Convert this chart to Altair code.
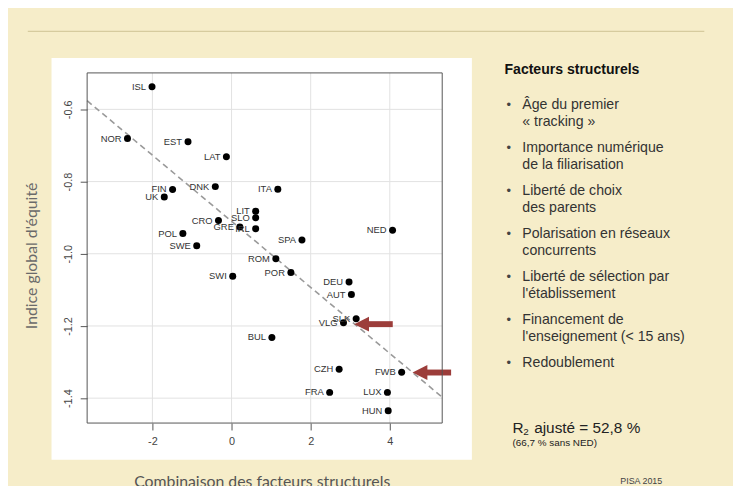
import altair as alt
import pandas as pd

# ---- data ----
countries = ["ISL", "NOR", "EST", "LAT", "DNK", "FIN", "UK", "ITA", "LIT", "SLO",
             "CRO", "GRE", "IRL", "POL", "SWE", "SPA", "ROM", "POR", "SWI", "NED",
             "DEU", "AUT", "SLK", "VLG", "BUL", "CZH", "FWB", "FRA", "LUX", "HUN"]
x_vals = [-2.01, -2.63, -1.10, -0.13, -0.41, -1.49, -1.70, 1.17, 0.61, 0.61,
          -0.33, 0.21, 0.61, -1.23, -0.88, 1.78, 1.12, 1.50, 0.03, 4.07,
          2.97, 3.03, 3.15, 2.83, 1.02, 2.72, 4.30, 2.48, 3.94, 3.96]
y_vals = [-0.537, -0.681, -0.690, -0.731, -0.814, -0.822, -0.843, -0.821, -0.882, -0.900,
          -0.908, -0.926, -0.931, -0.944, -0.978, -0.962, -1.014, -1.052, -1.062, -0.935,
          -1.078, -1.113, -1.180, -1.191, -1.232, -1.320, -1.328, -1.384, -1.384, -1.435]

fit_x = [-3.65, 5.30]
fit_y = [-0.576, -1.395]

x_ticks = [-2, 0, 2, 4]
y_ticks = [-0.6, -0.8, -1.0, -1.2, -1.4]

arrow_tip_x = [3.10, 4.575]
arrow_tip_y = [-1.195, -1.329]
arrow_tail_x = [4.075, 5.55]

title_right = "Facteurs structurels"
bullets = [
    ["Âge du premier", "« tracking »"],
    ["Importance numérique", "de la filiarisation"],
    ["Liberté de choix", "des parents"],
    ["Polarisation en réseaux", "concurrents"],
    ["Liberté de sélection par", "l'établissement"],
    ["Financement de", "l'enseignement (< 15 ans)"],
    ["Redoublement"],
]
r2_main = "ajusté = 52,8 %"
r2_note = "(66,7 % sans NED)"
source_note = "PISA 2015"
y_title = "Indice global d'équité"
x_title = "Combinaison des facteurs structurels"

# ---- layout ----
W, H = 359, 354
X_DOM = [-3.65, 5.325]
Y_DOM = [-1.469, -0.499]
BG = "#F6EDC9"
FONT = "Liberation Sans"
TITLE_FONT = "Lato"
ARROW = "#9C3D3A"

pts = pd.DataFrame({"country": countries, "x": x_vals, "y": y_vals})
fit = pd.DataFrame({"x": fit_x, "y": fit_y})
arr = pd.DataFrame({"tip": arrow_tip_x, "y": arrow_tip_y, "tail": arrow_tail_x})
arr["start"] = arr["tip"] + 0.3
one = pd.DataFrame({"a": [0]})

xs = alt.Scale(domain=X_DOM, zero=False, nice=False)
ys = alt.Scale(domain=Y_DOM, zero=False, nice=False)

x_axis = alt.Axis(values=x_ticks, title=None, grid=False, domain=False,
                  labelExpr="replace(format(datum.value, 'd'), '\u2212', '-')",
                  tickSize=7, labelPadding=6, zindex=1)
y_axis = alt.Axis(values=y_ticks, title=None, grid=False, domain=False,
                  labelExpr="replace(format(datum.value, '.1f'), '\u2212', '-')",
                  tickSize=7, labelPadding=7, labelAngle=270, labelAlign="center",
                  labelBaseline="bottom", zindex=1)

panel = alt.Chart(one).mark_rect(color="white").encode(
    x=alt.value(-36), x2=alt.value(389), y=alt.value(-15), y2=alt.value(391))

header = alt.Chart(one).mark_rule(color="#D6CB9E", strokeWidth=1.3).encode(
    x=alt.value(-60), x2=alt.value(624), y=alt.value(-42))

gx = alt.Chart(pd.DataFrame({"v": x_ticks})).mark_rule(color="#E2E2E2", strokeWidth=1).encode(
    x=alt.X("v:Q", scale=xs, axis=x_axis))
gy = alt.Chart(pd.DataFrame({"v": y_ticks})).mark_rule(color="#E2E2E2", strokeWidth=1).encode(
    y=alt.Y("v:Q", scale=ys, axis=y_axis))

line = alt.Chart(fit).mark_line(color="#9A9A9A", strokeDash=[6, 4], strokeWidth=1.6).encode(
    x=alt.X("x:Q", scale=xs), y=alt.Y("y:Q", scale=ys))

dots = alt.Chart(pts).mark_circle(color="black", opacity=1, size=50).encode(
    x=alt.X("x:Q", scale=xs), y=alt.Y("y:Q", scale=ys))

labels = alt.Chart(pts).mark_text(align="right", baseline="middle", dx=-6, fontSize=9.5,
                                  font=FONT, color="#333333").encode(
    x=alt.X("x:Q", scale=xs), y=alt.Y("y:Q", scale=ys), text="country:N")

shaft = alt.Chart(arr).mark_rule(color=ARROW, strokeWidth=6, strokeCap="butt").encode(
    x=alt.X("start:Q", scale=xs), x2="tail:Q", y=alt.Y("y:Q", scale=ys))
head = alt.Chart(arr).mark_point(shape="M0,0L2,-1L2,1Z", filled=True, fill=ARROW,
                                 stroke=None, opacity=1, size=225).encode(
    x=alt.X("tip:Q", scale=xs), y=alt.Y("y:Q", scale=ys))

box = alt.Chart(one).mark_rect(fillOpacity=0, stroke="#555555", strokeWidth=1).encode(
    x=alt.value(0), x2=alt.value(W), y=alt.value(0), y2=alt.value(H))

texts = []


def txt(s, x, y, size=14.3, weight="normal", color="#333333", font=FONT, align="left",
        baseline="middle", angle=0):
    kw = dict(text=s, align=align, baseline=baseline, fontSize=size, fontWeight=weight,
              color=color, font=font)
    if angle:
        kw["angle"] = angle
    return alt.Chart(one).mark_text(**kw).encode(x=alt.value(x), y=alt.value(y))


texts.append(txt(title_right, 422, -3, size=14.2, weight="bold", color="#111111"))
for i, item in enumerate(bullets):
    y0 = 32 + 43.5 * i
    texts.append(txt("•", 424, y0, size=13, color="#444444"))
    for j, line_s in enumerate(item):
        texts.append(txt(line_s, 440, y0 + 17.5 * j, size=14.3))

texts.append(txt("R", 430, 359, size=15.5, color="#222222"))
texts.append(txt("2", 441, 363, size=10, color="#222222"))
texts.append(txt(r2_main, 452, 359, size=15.5, color="#222222"))
texts.append(txt(r2_note, 430, 374, size=10, color="#222222"))
texts.append(txt(source_note, 539, 413, size=9, color="#444444"))
texts.append(txt(y_title, -56, 185, size=16, color="#6A6A6A", font=TITLE_FONT,
                 align="center", angle=270))
texts.append(txt(x_title, 177, 414, size=16, color="#555555", font=TITLE_FONT,
                 align="center"))

chart = alt.layer(panel, header, gx, gy, line, dots, labels, shaft, head, box, *texts).properties(
    width=W, height=H,
    autosize=alt.AutoSizeParams(type="none"),
    padding={"left": 80, "top": 63, "right": 294, "bottom": 61},
    background=BG,
).configure_view(stroke=None, fill="white").configure_axis(
    labelFont=FONT, labelFontSize=11, labelColor="#444444", tickColor="#555555"
)

chart.save("out.html", embed_options={"renderer": "svg", "actions": False})
